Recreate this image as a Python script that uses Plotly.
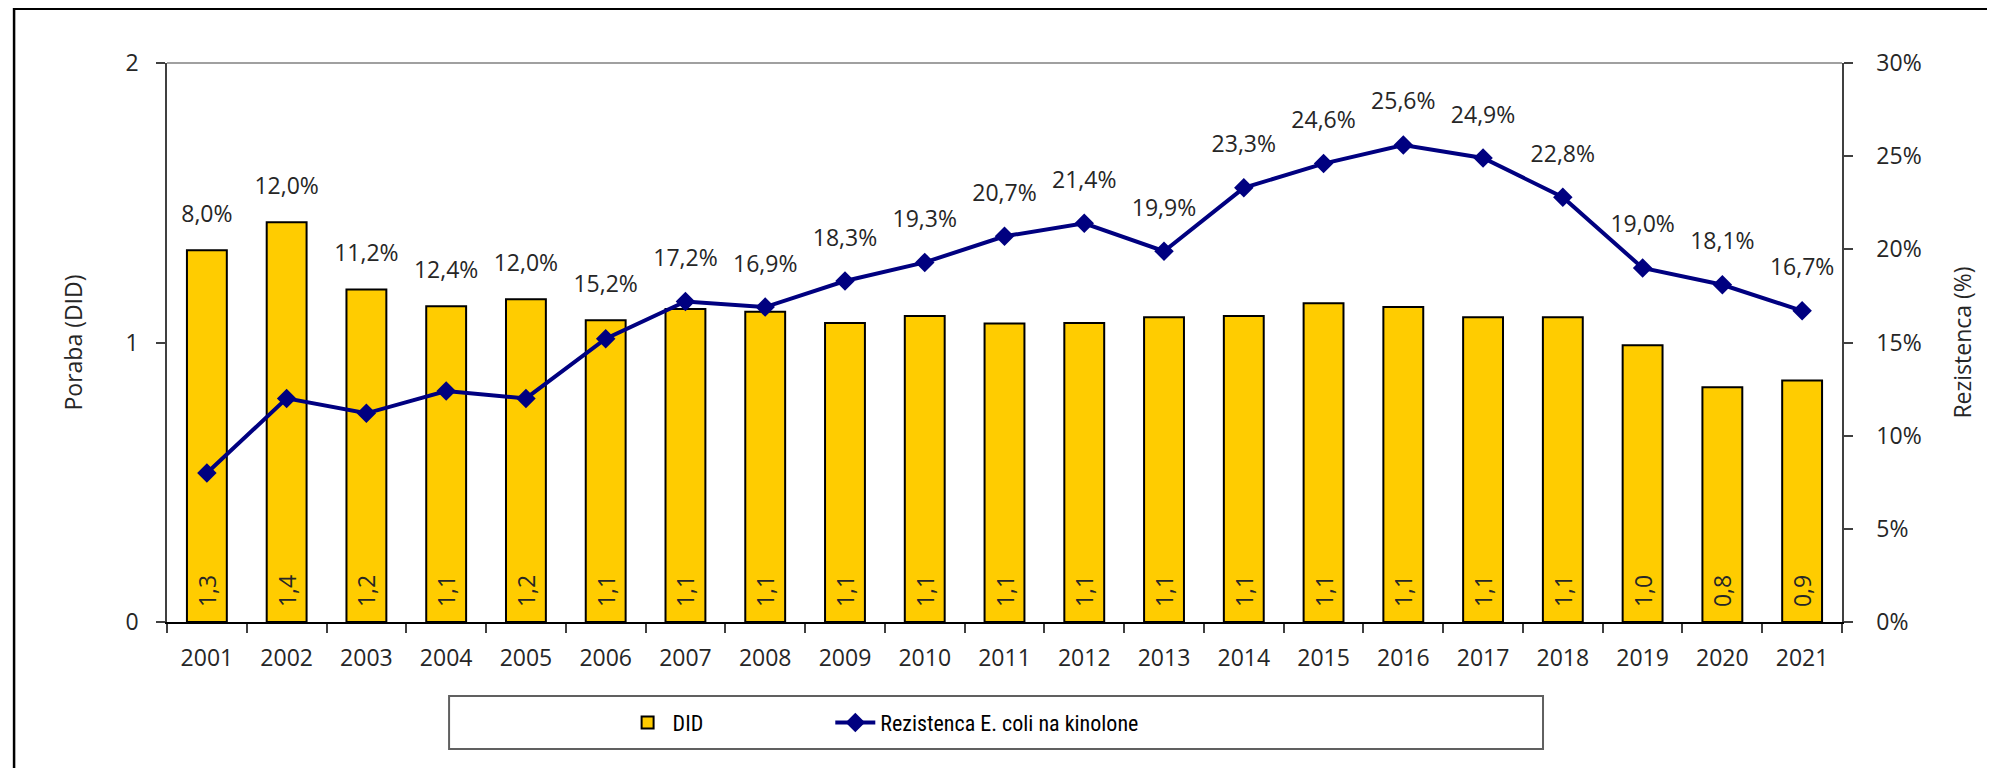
import plotly.graph_objects as go

years = [str(y) for y in range(2001, 2022)]
did = [1.33, 1.43, 1.19, 1.13, 1.155, 1.08, 1.12, 1.11, 1.07, 1.095, 1.068,
       1.07, 1.09, 1.095, 1.14, 1.127, 1.09, 1.09, 0.99, 0.84, 0.864]
resistance = [8.0, 12.0, 11.2, 12.4, 12.0, 15.2, 17.2, 16.9, 18.3, 19.3, 20.7,
              21.4, 19.9, 23.3, 24.6, 25.6, 24.9, 22.8, 19.0, 18.1, 16.7]

FONT = "Open Sans, Lato, sans-serif"
LEGEND_FONT = "Liberation Sans Narrow, Roboto Condensed, Open Sans, sans-serif"
TXT = "#262626"
AX = "#404040"
NBSP = "\u00a0"


def comma(v, fmt):
    return format(v, fmt).replace(".", ",")


# labels sit above whichever is higher: the bar top or the line point (left-axis units)
point_left = [r / 15 for r in resistance]
label_y = [max(v, p) for v, p in zip(did, point_left)]
label_pad = [34 if v >= p else 46 for v, p in zip(did, point_left)]

fig = go.Figure()
fig.add_trace(go.Bar(
    x=years, y=did, name="DID", width=0.5,
    marker=dict(color="#FFCC00", line=dict(color="black", width=2)),
    text=[NBSP * 2 + comma(v, ".1f") for v in did],
    textposition="inside", insidetextanchor="start", textangle=-90,
    textfont=dict(family=FONT, size=23, color=TXT), constraintext="none",
    hoverinfo="x+y",
))
fig.add_trace(go.Scatter(
    x=years, y=[r / 100 for r in resistance], name="Rezistenca E. coli na kinolone",
    yaxis="y2", mode="lines+markers", legend="legend2",
    line=dict(color="#000080", width=4),
    marker=dict(symbol="diamond", size=15, color="#000080"),
))
fig.add_trace(go.Scatter(
    x=years, y=label_y,
    mode="markers+text", showlegend=False, hoverinfo="skip",
    marker=dict(size=label_pad, opacity=0),
    text=[comma(r, ".1f") + "%" for r in resistance], textposition="top center",
    textfont=dict(family=FONT, size=23, color=TXT),
))

shapes = [
    # top edge of the plot area
    dict(type="line", xref="paper", yref="paper", x0=0, x1=1, y0=1, y1=1,
         line=dict(color="#808080", width=1.5)),
    # legend box
    dict(type="rect", xref="paper", yref="paper", x0=0.1684, x1=0.8215,
         y0=-0.2272, y1=-0.1324, line=dict(color="#606060", width=2)),
    # outer chart border
    dict(type="rect", xref="paper", yref="paper", x0=-0.0913, x1=1.2,
         y0=-0.4, y1=1.097, line=dict(color="black", width=2.5)),
]

n = len(years)
ticks = dict(ticklen=9, tickcolor=AX, tickwidth=1.5)
fig.update_layout(
    width=1987, height=760,
    margin=dict(l=159, r=153, t=55, b=146),
    paper_bgcolor="white", plot_bgcolor="white",
    separators=",.",
    font=dict(family=FONT, size=23, color=TXT),
    xaxis=dict(
        type="category", showgrid=False, showline=True, linecolor="black", linewidth=1.5,
        ticks="outside", tickson="boundaries", ticklabelstandoff=15,
        tickfont=dict(size=23), range=[-0.5, n - 0.5], **ticks,
    ),
    xaxis2=dict(
        overlaying="x", anchor="y", type="linear", range=[-0.5, n - 0.5],
        tickvals=[i - 0.5 for i in range(n + 1)], ticks="inside",
        showticklabels=False, showgrid=False, zeroline=False, showline=False, **ticks,
    ),
    yaxis=dict(
        range=[0, 2], tickvals=[0, 1, 2], showgrid=False, zeroline=False,
        showline=True, linecolor=AX, linewidth=1.5, ticks="outside",
        ticklabelstandoff=13, tickfont=dict(size=23),
        title=dict(text="Poraba (DID)", font=dict(size=23), standoff=36), **ticks,
    ),
    yaxis2=dict(
        overlaying="y", side="right", range=[0, 0.3],
        tickvals=[0, 0.05, 0.1, 0.15, 0.2, 0.25, 0.3],
        tickformat=".0%", showgrid=False, zeroline=False, showline=True,
        linecolor=AX, linewidth=1.5, ticks="outside", ticklabelstandoff=19,
        tickfont=dict(size=23),
        title=dict(text="Rezistenca (%)", font=dict(size=23), standoff=34), **ticks,
    ),
    yaxis3=dict(
        overlaying="y", side="right", anchor="x", range=[0, 0.3],
        tickvals=[0, 0.05, 0.1, 0.15, 0.2, 0.25, 0.3], ticks="inside",
        showticklabels=False, showgrid=False, zeroline=False, showline=False, **ticks,
    ),
    legend=dict(
        orientation="h", x=0.272, y=-0.18, xanchor="left", yanchor="middle",
        bgcolor="rgba(0,0,0,0)", font=dict(family=LEGEND_FONT, size=22, color="black"),
        itemwidth=40,
    ),
    legend2=dict(
        orientation="h", x=0.396, y=-0.18, xanchor="left", yanchor="middle",
        bgcolor="rgba(0,0,0,0)", font=dict(family=LEGEND_FONT, size=22, color="black"),
        itemwidth=40,
    ),
    showlegend=True,
    shapes=shapes,
)

fig.write_html("out.html")
